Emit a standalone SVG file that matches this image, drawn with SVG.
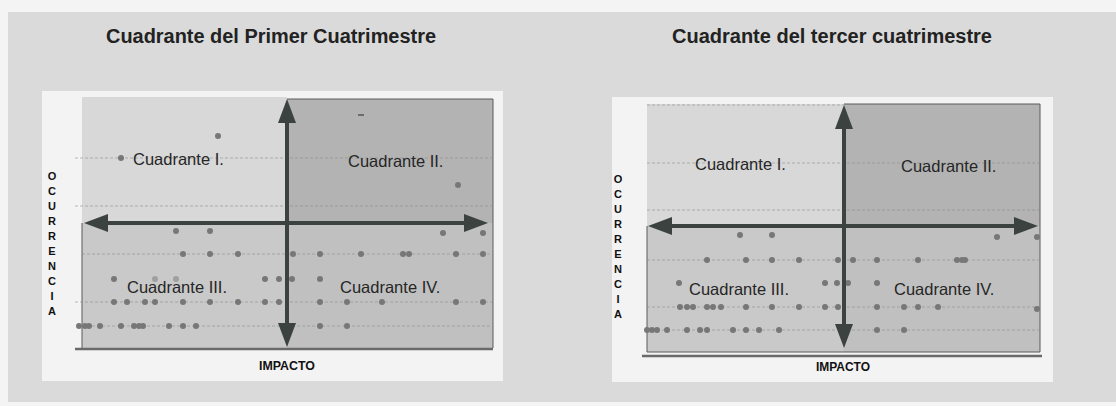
<svg xmlns="http://www.w3.org/2000/svg" width="1116" height="406" viewBox="0 0 1116 406">
<defs>
<style>
.title{font-family:"Liberation Sans",Arial,sans-serif;font-weight:bold;font-size:20px;fill:#222}
.ql{font-family:"Liberation Sans",Arial,sans-serif;font-size:16.5px;fill:#262626}
.vl{font-family:"Liberation Sans",Arial,sans-serif;font-weight:bold;font-size:11px;fill:#111;text-anchor:middle}
.xl{font-family:"Liberation Sans",Arial,sans-serif;font-weight:bold;font-size:12px;fill:#111;text-anchor:middle}
.grid{stroke:#8a8a8a;stroke-width:0.8;stroke-dasharray:3 2;opacity:0.7}
.axis{stroke:#3b423f;stroke-width:4;fill:none}
.dot{fill:#777}
.edge{stroke:#5a5a5a;stroke-width:1;fill:none}
.base{stroke:#6a6a6a;stroke-width:2.5}
</style>
<marker id="ah" markerUnits="userSpaceOnUse" markerWidth="26" markerHeight="20" refX="4" refY="9" orient="auto-start-reverse">
<path d="M0,0 L24,9 L0,18 Z" fill="#3b423f"/>
</marker>
</defs>
<rect x="0" y="0" width="1116" height="406" fill="#f4f4f4"/>
<rect x="8" y="12" width="1108" height="390" fill="#dadada"/>

<g id="title-left"><text class="title" x="106" y="43" textLength="330" lengthAdjust="spacingAndGlyphs">Cuadrante del Primer Cuatrimestre</text></g>
<g id="title-right"><text class="title" x="672" y="43" textLength="320" lengthAdjust="spacingAndGlyphs">Cuadrante del tercer cuatrimestre</text></g>

<!-- LEFT CHART -->
<g id="chart-left">
<rect x="42" y="91" width="461" height="290" fill="#f3f3f3"/>
<rect x="82" y="97" width="205" height="126" fill="#d8d8d8"/>
<rect x="287" y="99" width="206" height="124" fill="#b3b3b3"/>
<rect x="82" y="223" width="205" height="125" fill="#c9c9c9"/>
<rect x="287" y="223" width="206" height="125" fill="#c0c0c0"/>
<path class="edge" d="M287,99 H493 V348 M82,223 V348"/>
<line class="base" x1="75" y1="349" x2="493" y2="349"/>
<line class="grid" x1="75" y1="158" x2="493" y2="158"/>
<line class="grid" x1="75" y1="206" x2="493" y2="206"/>
<line class="grid" x1="82" y1="254" x2="493" y2="254"/>
<line class="grid" x1="75" y1="302" x2="493" y2="302"/>
<line class="grid" x1="82" y1="326" x2="493" y2="326"/>
<line x1="358" y1="115" x2="364" y2="115" stroke="#555" stroke-width="1.5"/>
<g id="dots-left">
<circle class="dot" cx="218" cy="136" r="3"/><circle class="dot" cx="121" cy="158" r="3"/><circle class="dot" cx="458" cy="185" r="3"/>
<circle class="dot" cx="176" cy="231" r="3"/><circle class="dot" cx="210" cy="231" r="3"/><circle class="dot" cx="443" cy="233" r="3"/><circle class="dot" cx="483" cy="233" r="3"/>
<circle class="dot" cx="183" cy="254" r="3"/><circle class="dot" cx="210" cy="254" r="3"/><circle class="dot" cx="238" cy="254" r="3"/><circle class="dot" cx="293" cy="254" r="3"/><circle class="dot" cx="320" cy="254" r="3"/><circle class="dot" cx="361" cy="254" r="3"/><circle class="dot" cx="403" cy="254" r="3"/><circle class="dot" cx="409" cy="254" r="3"/><circle class="dot" cx="456" cy="254" r="3"/><circle class="dot" cx="483" cy="254" r="3"/>
<circle class="dot" cx="114" cy="279" r="3"/><circle class="dot" cx="155" cy="279" r="3" opacity="0.5"/><circle class="dot" cx="176" cy="279" r="3" opacity="0.5"/><circle class="dot" cx="265" cy="279" r="3"/><circle class="dot" cx="279" cy="279" r="3"/><circle class="dot" cx="292" cy="279" r="3"/><circle class="dot" cx="320" cy="279" r="3"/>
<circle class="dot" cx="114" cy="302" r="3"/><circle class="dot" cx="127" cy="302" r="3"/><circle class="dot" cx="145" cy="302" r="3"/><circle class="dot" cx="155" cy="302" r="3"/><circle class="dot" cx="183" cy="302" r="3"/><circle class="dot" cx="210" cy="302" r="3"/><circle class="dot" cx="238" cy="302" r="3"/><circle class="dot" cx="265" cy="302" r="3"/><circle class="dot" cx="279" cy="302" r="3"/><circle class="dot" cx="320" cy="302" r="3"/><circle class="dot" cx="347" cy="302" r="3"/><circle class="dot" cx="382" cy="302" r="3"/><circle class="dot" cx="456" cy="302" r="3"/><circle class="dot" cx="483" cy="302" r="3"/>
<circle class="dot" cx="79" cy="326" r="3"/><circle class="dot" cx="85" cy="326" r="3"/><circle class="dot" cx="89" cy="326" r="3"/><circle class="dot" cx="100" cy="326" r="3"/><circle class="dot" cx="121" cy="326" r="3"/><circle class="dot" cx="134" cy="326" r="3"/><circle class="dot" cx="139" cy="326" r="3"/><circle class="dot" cx="143" cy="326" r="3"/><circle class="dot" cx="169" cy="326" r="3"/><circle class="dot" cx="183" cy="326" r="3"/><circle class="dot" cx="196" cy="326" r="3"/><circle class="dot" cx="320" cy="326" r="3"/><circle class="dot" cx="347" cy="326" r="3"/>
</g>
<text class="ql" x="133" y="165">Cuadrante I.</text>
<text class="ql" x="348" y="167">Cuadrante II.</text>
<text class="ql" x="127" y="293">Cuadrante III.</text>
<text class="ql" x="340" y="293">Cuadrante IV.</text>
<g id="ylabel-left">
<text class="vl" x="52" y="180">O</text><text class="vl" x="52" y="195">C</text><text class="vl" x="52" y="210">U</text><text class="vl" x="52" y="225">R</text><text class="vl" x="52" y="240">R</text><text class="vl" x="52" y="255">E</text><text class="vl" x="52" y="270">N</text><text class="vl" x="52" y="285">C</text><text class="vl" x="52" y="300">I</text><text class="vl" x="52" y="315">A</text>
</g>
<text class="xl" x="287" y="370" textLength="56" lengthAdjust="spacingAndGlyphs">IMPACTO</text>
</g>

<!-- RIGHT CHART -->
<g id="chart-right">
<rect x="612" y="97" width="441" height="285" fill="#f3f3f3"/>
<rect x="647" y="104" width="197" height="122" fill="#d8d8d8"/>
<rect x="844" y="104" width="196" height="122" fill="#b3b3b3"/>
<rect x="647" y="226" width="197" height="126" fill="#c9c9c9"/>
<rect x="844" y="226" width="196" height="126" fill="#c0c0c0"/>
<path class="edge" d="M844,104 H1040 V352 H647 V226"/>
<line class="base" x1="642" y1="356" x2="1042" y2="356"/>
<line class="grid" x1="647" y1="105" x2="844" y2="105"/>
<line class="grid" x1="647" y1="163" x2="1040" y2="163"/>
<line class="grid" x1="647" y1="210" x2="1040" y2="210"/>
<line class="grid" x1="647" y1="260" x2="1040" y2="260"/>
<line class="grid" x1="647" y1="307" x2="1040" y2="307"/>
<line class="grid" x1="647" y1="330" x2="1040" y2="330"/>
<g id="dots-right">
<circle class="dot" cx="740" cy="235" r="3"/><circle class="dot" cx="772" cy="235" r="3"/><circle class="dot" cx="997" cy="237" r="3"/><circle class="dot" cx="1037" cy="237" r="3"/>
<circle class="dot" cx="707" cy="260" r="3"/><circle class="dot" cx="746" cy="260" r="3"/><circle class="dot" cx="772" cy="260" r="3"/><circle class="dot" cx="799" cy="260" r="3"/><circle class="dot" cx="838" cy="260" r="3"/><circle class="dot" cx="853" cy="260" r="3"/><circle class="dot" cx="877" cy="260" r="3"/><circle class="dot" cx="918" cy="260" r="3"/><circle class="dot" cx="957" cy="260" r="3"/><circle class="dot" cx="962" cy="260" r="3"/><circle class="dot" cx="965" cy="260" r="3"/>
<circle class="dot" cx="679" cy="283" r="3"/><circle class="dot" cx="825" cy="283" r="3"/><circle class="dot" cx="837" cy="283" r="3"/><circle class="dot" cx="848" cy="283" r="3"/><circle class="dot" cx="877" cy="283" r="3"/>
<circle class="dot" cx="680" cy="307" r="3"/><circle class="dot" cx="687" cy="307" r="3"/><circle class="dot" cx="693" cy="307" r="3"/><circle class="dot" cx="707" cy="307" r="3"/><circle class="dot" cx="713" cy="307" r="3"/><circle class="dot" cx="721" cy="307" r="3"/><circle class="dot" cx="746" cy="307" r="3"/><circle class="dot" cx="772" cy="307" r="3"/><circle class="dot" cx="799" cy="307" r="3"/><circle class="dot" cx="825" cy="307" r="3"/><circle class="dot" cx="838" cy="307" r="3"/><circle class="dot" cx="877" cy="307" r="3"/><circle class="dot" cx="904" cy="307" r="3"/><circle class="dot" cx="918" cy="307" r="3"/><circle class="dot" cx="938" cy="307" r="3"/><circle class="dot" cx="1037" cy="309" r="3"/>
<circle class="dot" cx="647" cy="330" r="3"/><circle class="dot" cx="652" cy="330" r="3"/><circle class="dot" cx="657" cy="330" r="3"/><circle class="dot" cx="667" cy="330" r="3"/><circle class="dot" cx="687" cy="330" r="3"/><circle class="dot" cx="700" cy="330" r="3"/><circle class="dot" cx="707" cy="330" r="3"/><circle class="dot" cx="733" cy="330" r="3"/><circle class="dot" cx="746" cy="330" r="3"/><circle class="dot" cx="759" cy="330" r="3"/><circle class="dot" cx="779" cy="330" r="3"/><circle class="dot" cx="877" cy="330" r="3"/><circle class="dot" cx="904" cy="330" r="3"/>
</g>
<text class="ql" x="695" y="170">Cuadrante I.</text>
<text class="ql" x="901" y="172">Cuadrante II.</text>
<text class="ql" x="689" y="295">Cuadrante III.</text>
<text class="ql" x="894" y="295">Cuadrante IV.</text>
<g id="ylabel-right">
<text class="vl" x="618" y="183">O</text><text class="vl" x="618" y="198">C</text><text class="vl" x="618" y="213">U</text><text class="vl" x="618" y="228">R</text><text class="vl" x="618" y="243">R</text><text class="vl" x="618" y="258">E</text><text class="vl" x="618" y="273">N</text><text class="vl" x="618" y="288">C</text><text class="vl" x="618" y="303">I</text><text class="vl" x="618" y="318">A</text>
</g>
<text class="xl" x="843" y="371" textLength="54" lengthAdjust="spacingAndGlyphs">IMPACTO</text>
</g>

<g id="connectors">
<line id="axis-left-h" class="axis" x1="104" y1="223" x2="468" y2="223" marker-start="url(#ah)" marker-end="url(#ah)"/>
<line id="axis-left-v" class="axis" x1="287" y1="119" x2="287" y2="327" marker-start="url(#ah)" marker-end="url(#ah)"/>
<line id="axis-right-h" class="axis" x1="668" y1="226" x2="1018" y2="226" marker-start="url(#ah)" marker-end="url(#ah)"/>
<line id="axis-right-v" class="axis" x1="844" y1="125" x2="844" y2="328" marker-start="url(#ah)" marker-end="url(#ah)"/>
</g>
</svg>
